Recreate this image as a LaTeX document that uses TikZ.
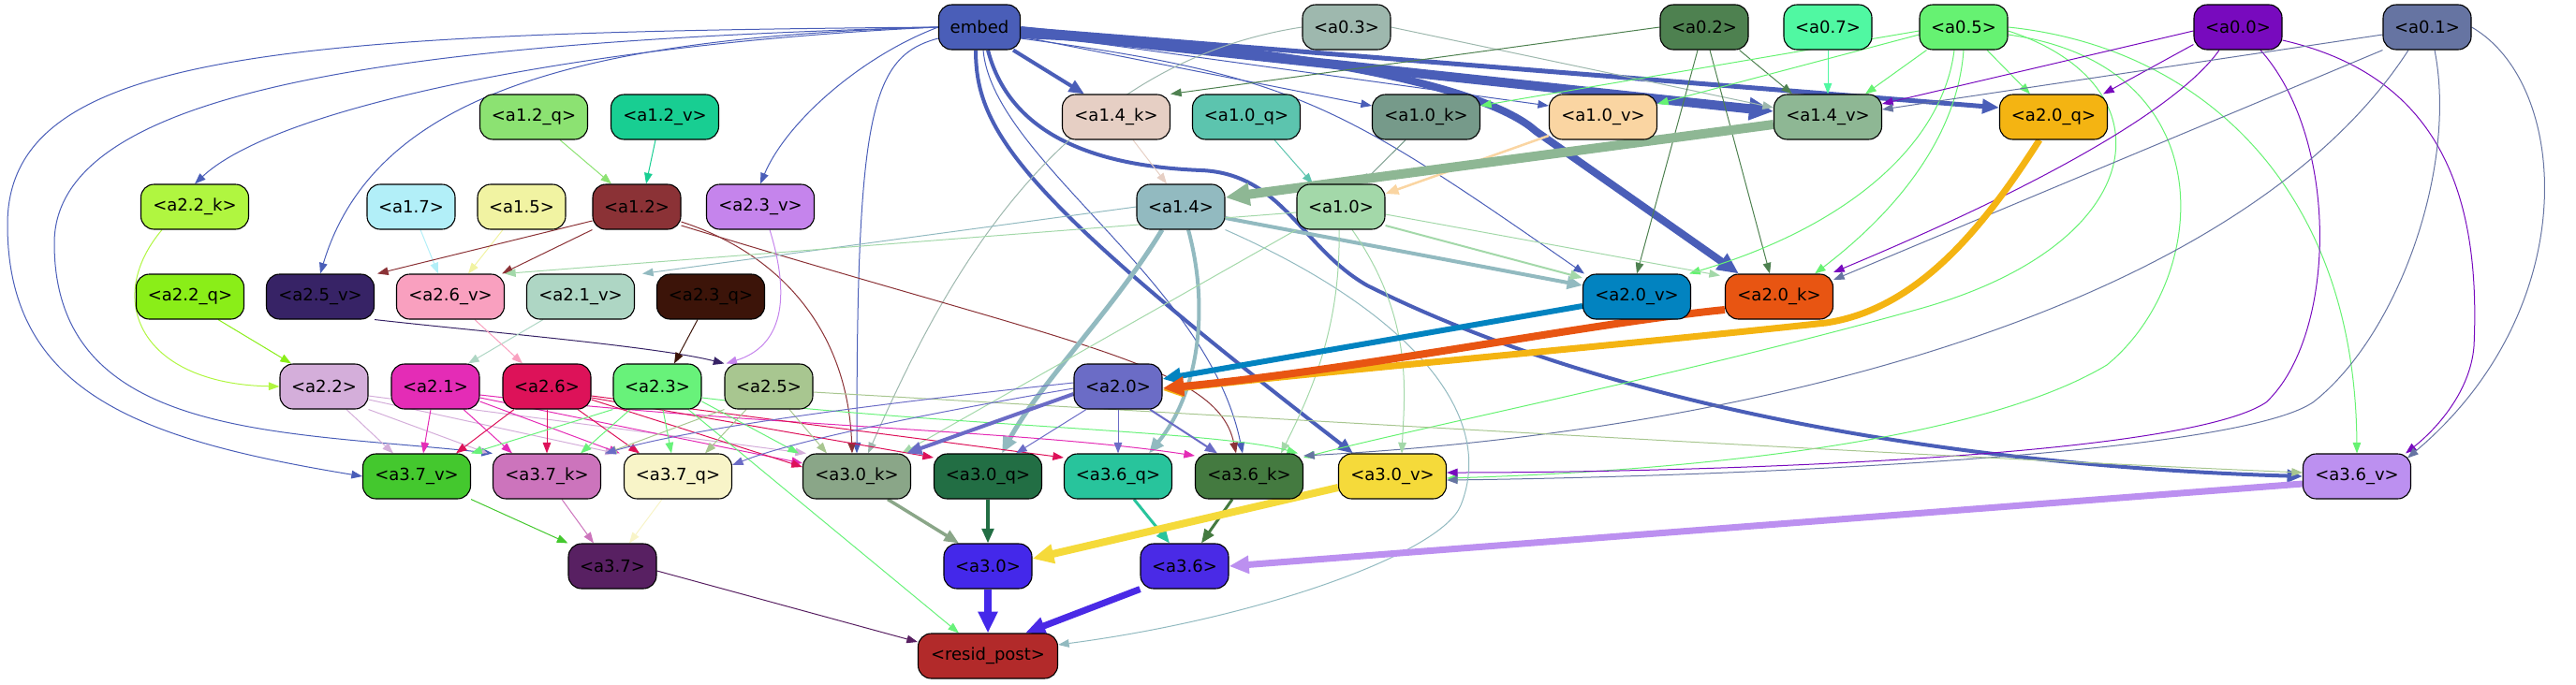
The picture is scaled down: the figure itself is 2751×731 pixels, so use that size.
\documentclass[tikz,border=0pt]{standalone}
\usepackage{fontspec}
\setmainfont{DejaVu Sans}
\usetikzlibrary{arrows.meta}
\pgfdeclarelayer{bg}
\pgfsetlayers{bg,main}
\definecolor{cEM}{HTML}{4A5EB8}
\definecolor{c03}{HTML}{9EB8AE}
\definecolor{c02}{HTML}{4E8150}
\definecolor{c07}{HTML}{50F8A2}
\definecolor{c05}{HTML}{66F272}
\definecolor{c00}{HTML}{780ABE}
\definecolor{c01}{HTML}{6674A2}
\definecolor{c12q}{HTML}{8CE272}
\definecolor{c12v}{HTML}{18CE92}
\definecolor{c14k}{HTML}{E6CFC4}
\definecolor{c10q}{HTML}{5CC4AE}
\definecolor{c10k}{HTML}{769A8A}
\definecolor{c10v}{HTML}{FAD5A2}
\definecolor{c14v}{HTML}{8EB794}
\definecolor{c20q}{HTML}{F4B412}
\definecolor{c22k}{HTML}{B0F640}
\definecolor{c17}{HTML}{B2EFF8}
\definecolor{c15}{HTML}{F1F3A2}
\definecolor{c12}{HTML}{8B3236}
\definecolor{c23v}{HTML}{C584EC}
\definecolor{c14}{HTML}{92BAC0}
\definecolor{c10}{HTML}{A3D8A9}
\definecolor{c22q}{HTML}{8AEE18}
\definecolor{c25v}{HTML}{372366}
\definecolor{c26v}{HTML}{F9A0BF}
\definecolor{c21v}{HTML}{AED6C4}
\definecolor{c23q}{HTML}{3C1409}
\definecolor{c20v}{HTML}{0283C0}
\definecolor{c20k}{HTML}{E85512}
\definecolor{c22}{HTML}{D4AEDA}
\definecolor{c21}{HTML}{E42CB6}
\definecolor{c26}{HTML}{DD1259}
\definecolor{c23}{HTML}{68F27A}
\definecolor{c25}{HTML}{A8C690}
\definecolor{c20}{HTML}{6B6CC6}
\definecolor{c37v}{HTML}{44C82E}
\definecolor{c37k}{HTML}{CC74BC}
\definecolor{c37q}{HTML}{F8F4C8}
\definecolor{c30k}{HTML}{8AA688}
\definecolor{c30q}{HTML}{226E44}
\definecolor{c36q}{HTML}{28C49C}
\definecolor{c36k}{HTML}{447A40}
\definecolor{c30v}{HTML}{F5DA3A}
\definecolor{c36v}{HTML}{BC90F0}
\definecolor{c37}{HTML}{582062}
\definecolor{c30}{HTML}{4428EA}
\definecolor{c36}{HTML}{4A2AE6}
\definecolor{cRP}{HTML}{B22A2A}
\begin{document}
\begin{tikzpicture}[x=1pt,y=-1pt,
  font=\fontsize{18pt}{20pt}\selectfont,
  nd/.style={draw=black, line width=1.1pt, rounded corners=14pt, minimum height=48pt, inner sep=0pt, text=black},
  sn/.style={nd, minimum width=94pt},
  ln/.style={nd, minimum width=115pt},
  edg/.style={line width=#1pt, -{Triangle[length=10pt 1.6,width=7pt 1.6]}},
  edg/.default=1]
\useasboundingbox (0,0) rectangle (2751,731);
% row 1
\node[nd, minimum width=87pt, fill=cEM] (embed) at (1046,29) {embed};
\node[sn, fill=c03] (a03) at (1438,29) {<a0.3>};
\node[sn, fill=c02] (a02) at (1820,29) {<a0.2>};
\node[sn, fill=c07] (a07) at (1952,29) {<a0.7>};
\node[sn, fill=c05] (a05) at (2097,29) {<a0.5>};
\node[sn, fill=c00] (a00) at (2390,29) {<a0.0>};
\node[sn, fill=c01] (a01) at (2592,29) {<a0.1>};
% row 2
\node[ln, fill=c12q] (a12q) at (570,125) {<a1.2\_q>};
\node[ln, fill=c12v] (a12v) at (710,125) {<a1.2\_v>};
\node[ln, fill=c14k] (a14k) at (1192,125) {<a1.4\_k>};
\node[ln, fill=c10q] (a10q) at (1331,125) {<a1.0\_q>};
\node[ln, fill=c10k] (a10k) at (1523,125) {<a1.0\_k>};
\node[ln, fill=c10v] (a10v) at (1712,125) {<a1.0\_v>};
\node[ln, fill=c14v] (a14v) at (1952,125) {<a1.4\_v>};
\node[ln, fill=c20q] (a20q) at (2193,125) {<a2.0\_q>};
% row 3
\node[ln, fill=c22k] (a22k) at (208,221) {<a2.2\_k>};
\node[sn, fill=c17] (a17) at (439,221) {<a1.7>};
\node[sn, fill=c15] (a15) at (557,221) {<a1.5>};
\node[sn, fill=c12] (a12) at (680,221) {<a1.2>};
\node[ln, fill=c23v] (a23v) at (812,221) {<a2.3\_v>};
\node[sn, fill=c14] (a14) at (1261,221) {<a1.4>};
\node[sn, fill=c10] (a10) at (1432,221) {<a1.0>};
% row 4
\node[ln, fill=c22q] (a22q) at (203,317) {<a2.2\_q>};
\node[ln, fill=c25v] (a25v) at (342,317) {<a2.5\_v>};
\node[ln, fill=c26v] (a26v) at (481,317) {<a2.6\_v>};
\node[ln, fill=c21v] (a21v) at (620,317) {<a2.1\_v>};
\node[ln, fill=c23q] (a23q) at (759,317) {<a2.3\_q>};
\node[ln, fill=c20v] (a20v) at (1748,317) {<a2.0\_v>};
\node[ln, fill=c20k] (a20k) at (1900,317) {<a2.0\_k>};
% row 5
\node[sn, fill=c22] (a22) at (346,413) {<a2.2>};
\node[sn, fill=c21] (a21) at (465,413) {<a2.1>};
\node[sn, fill=c26] (a26) at (584,413) {<a2.6>};
\node[sn, fill=c23] (a23) at (702,413) {<a2.3>};
\node[sn, fill=c25] (a25) at (821,413) {<a2.5>};
\node[sn, fill=c20] (a20) at (1194,413) {<a2.0>};
% row 6
\node[ln, fill=c37v] (a37v) at (445,509) {<a3.7\_v>};
\node[ln, fill=c37k] (a37k) at (584,509) {<a3.7\_k>};
\node[ln, fill=c37q] (a37q) at (724,509) {<a3.7\_q>};
\node[ln, fill=c30k] (a30k) at (915,509) {<a3.0\_k>};
\node[ln, fill=c30q] (a30q) at (1055,509) {<a3.0\_q>};
\node[ln, fill=c36q] (a36q) at (1194,509) {<a3.6\_q>};
\node[ln, fill=c36k] (a36k) at (1334,509) {<a3.6\_k>};
\node[ln, fill=c30v] (a30v) at (1487,509) {<a3.0\_v>};
\node[ln, fill=c36v] (a36v) at (2517,509) {<a3.6\_v>};
% row 7
\node[sn, fill=c37] (a37) at (654,605) {<a3.7>};
\node[sn, fill=c30] (a30) at (1055,605) {<a3.0>};
\node[sn, fill=c36] (a36) at (1265,605) {<a3.6>};
% row 8
\node[nd, minimum width=149pt, fill=cRP] (resid) at (1055,701) {<resid\_post>};

\begin{pgfonlayer}{bg}
% ---- embed
\draw[edg,cEM] (embed.west) .. controls (650,45) and (300,110) .. (a22k.north);
\draw[edg,cEM] (embed.west) .. controls (620,40) and (400,100) .. (a25v.north);
\draw[edg,cEM] (embed.west) .. controls (920,60) and (840,130) .. (a23v.north);
\draw[edg,cEM] (embed.west) .. controls (300,35) and (8,55) .. (8,240) .. controls (8,420) and (150,470) .. (a37v.west);
\draw[edg,cEM] (embed.west) .. controls (400,45) and (58,100) .. (58,260) .. controls (58,470) and (300,460) .. (a37k.north west);
\draw[edg,cEM] ([yshift=-12pt]embed.west) .. controls (930,60) and (915,120) .. (a30k.north);
\draw[edg=4,cEM] ([xshift=-8pt]embed.south east) -- ([xshift=-34pt]a14k.north);
\draw[edg,cEM] ([yshift=-10pt]embed.east) -- ([yshift=12pt]a10k.west);
\draw[edg,cEM] ([yshift=-6pt]embed.east) -- ([yshift=12pt]a10v.west);
\draw[edg,cEM] ([yshift=-12pt]embed.east) .. controls (1380,80) and (1430,110) .. ([xshift=2pt]a20v.north west);
\draw[edg=4,cEM] ([xshift=-4pt]embed.south) .. controls (1042,140) and (1090,210) .. ([xshift=16pt]a30v.north west);
\draw[edg,cEM] ([xshift=4pt]embed.south) .. controls (1060,170) and (1290,300) .. ([xshift=-7pt]a36k.north);
\draw[edg=4,cEM] ([xshift=9pt]embed.south) .. controls (1080,150) and (1180,178) .. (1283,182) .. controls (1370,186) and (1390,265) .. (1460,305) .. controls (1750,450) and (2150,500) .. (a36v.west);
\draw[edg=5,cEM] ([yshift=-2pt]embed.east) -- ([yshift=10pt]a20q.west);
\draw[edg=8,cEM] ([yshift=-8pt]embed.east) .. controls (1400,50) and (1590,95) .. (1640,140) -- ([xshift=15pt]a20k.north west);
\draw[edg=10,cEM] ([yshift=-4pt]embed.east) -- ([yshift=6pt]a14v.west);
% ---- layer 0
\draw[edg,c03] (a03.west) .. controls (1120,70) and (1000,320) .. ([xshift=12pt]a30k.north);
\draw[edg,c03] (a03.east) -- ([yshift=10pt]a14v.west);
\draw[edg,c02] (a02.west) -- (a14k.north east);
\draw[edg,c02] ([xshift=-10pt]a02.south east) -- ([xshift=-38pt]a14v.north);
\draw[edg,c02] ([xshift=-7pt]a02.south) -- (a20v.north);
\draw[edg,c02] ([xshift=6pt]a02.south) -- ([xshift=-10pt]a20k.north);
\draw[edg,c07] (a07.south) -- (a14v.north);
\draw[edg,c05] ([xshift=8pt]a05.south west) -- ([xshift=40pt]a14v.north);
\draw[edg,c05] ([yshift=-4pt]a05.west) -- ([yshift=12pt]a10k.east);
\draw[edg,c05] ([yshift=-8pt]a05.west) -- ([yshift=14pt]a10v.east);
\draw[edg,c05] ([xshift=25pt]a05.south) -- ([xshift=-25pt]a20q.north);
\draw[edg,c05] ([xshift=-10pt]a05.south) .. controls (2075,150) and (1980,240) .. ([xshift=-2pt]a20v.north east);
\draw[edg,c05] (a05.south) .. controls (2090,150) and (2020,230) .. ([xshift=-20pt]a20k.north east);
\draw[edg,c05] (a05.east) .. controls (2350,50) and (2515,200) .. (a36v.north);
\draw[edg,c05] ([yshift=-4pt]a05.east) .. controls (2320,90) and (2300,260) .. (2050,330) .. controls (1800,400) and (1500,460) .. ([yshift=20pt]a36k.east);
\draw[edg,c05] ([yshift=-8pt]a05.east) .. controls (2380,70) and (2360,300) .. (2250,390) .. controls (2100,480) and (1750,505) .. ([yshift=-2pt]a30v.east);
\draw[edg,c00] ([yshift=-4pt]a00.west) -- ([yshift=14pt]a14v.east);
\draw[edg,c00] ([yshift=6pt]a00.south west) -- ([xshift=-5pt]a20q.north east);
\draw[edg,c00] ([xshift=-20pt]a00.south) .. controls (2330,110) and (2200,190) .. ([yshift=26pt]a20k.east);
\draw[edg,c00] ([xshift=24pt]a00.south) .. controls (2500,150) and (2495,360) .. (2420,430) .. controls (2330,490) and (1800,505) .. ([yshift=4pt]a30v.east);
\draw[edg,c00] ([yshift=-14pt]a00.east) .. controls (2600,80) and (2650,200) .. (2642,370) .. controls (2638,420) and (2600,460) .. ([xshift=-6pt]a36v.north east);
\draw[edg,c01] ([yshift=-8pt]a01.west) -- ([yshift=8pt]a14v.east);
\draw[edg,c01] (a01.south west) -- ([yshift=18pt]a20k.east);
\draw[edg,c01] ([xshift=-20pt]a01.south) .. controls (2400,320) and (1900,460) .. ([yshift=22pt]a36k.east);
\draw[edg,c01] ([xshift=8pt]a01.south) .. controls (2625,180) and (2560,360) .. (2470,430) .. controls (2380,490) and (1800,510) .. ([yshift=-4pt]a30v.east);
\draw[edg,c01] (a01.east) .. controls (2745,90) and (2760,330) .. ([xshift=-4pt,yshift=-5pt]a36v.north east);
% ---- layer 1 inputs
\draw[edg,c12q] ([xshift=28pt]a12q.south) -- ([xshift=-27pt]a12.north);
\draw[edg,c12v] ([xshift=-10pt]a12v.south) -- ([xshift=10pt]a12.north);
\draw[edg,c14k] ([xshift=18pt]a14k.south) -- ([xshift=-15pt]a14.north);
\draw[edg,c10q] ([xshift=30pt]a10q.south) -- ([xshift=-30pt]a10.north);
\draw[edg,c10k] ([xshift=-22pt]a10k.south) -- ([xshift=22pt]a10.north);
\draw[edg=2.5,c10v] ([yshift=-20pt]a10v.west) -- ([yshift=14pt]a10.east);
% ---- layer 1 outputs
\draw[edg,c17] ([xshift=10pt]a17.south) -- ([xshift=-13pt]a26v.north);
\draw[edg,c15] ([xshift=-20pt]a15.south) -- ([xshift=19pt]a26v.north);
\draw[edg,c12] ([yshift=-15pt]a12.west) -- ([xshift=3pt]a25v.north east);
\draw[edg,c12] (a12.south west) -- ([xshift=-3pt]a26v.north east);
\draw[edg,c12] ([yshift=-16pt]a12.east) .. controls (830,270) and (905,350) .. ([xshift=-5pt]a30k.north);
\draw[edg,c12] ([yshift=-20pt]a12.east) .. controls (1150,370) and (1300,390) .. ([xshift=-14pt]a36k.north);
\draw[edg,c14] (a14.west) -- ([xshift=8pt]a21v.north east);
\draw[edg,c14] (a14.south east) .. controls (1500,330) and (1600,440) .. (1560,540) .. controls (1540,590) and (1350,660) .. ([yshift=12pt]resid.east);
\draw[edg=4,c14] ([yshift=-12pt]a14.east) -- ([yshift=12pt]a20v.west);
\draw[edg=5,c14] ([xshift=-20pt]a14.south) .. controls (1190,330) and (1110,410) .. ([xshift=15pt]a30q.north);
\draw[edg=4,c14] ([xshift=8pt]a14.south) .. controls (1292,330) and (1280,420) .. ([xshift=33pt]a36q.north);
\draw[edg,c10] ([yshift=-6pt]a10.west) -- (a26v.north east);
\draw[edg,c10] (a10.south west) -- ([xshift=-10pt]a30k.north east);
\draw[edg,c10] ([xshift=-2pt]a10.south) .. controls (1432,350) and (1400,420) .. ([xshift=34pt]a36k.north);
\draw[edg,c10] ([xshift=12pt]a10.south) .. controls (1510,340) and (1500,420) .. ([xshift=10pt]a30v.north);
\draw[edg,c10] ([yshift=-8pt]a10.east) -- ([xshift=-5pt,yshift=-2pt]a20k.north west);
\draw[edg=2,c10] ([yshift=-20pt]a10.east) -- ([yshift=20pt]a20v.west);
\draw[edg=10,c14v] ([yshift=-8pt]a14v.west) -- ([yshift=10pt]a14.east);
% ---- layer 2 inputs
\draw[edg,c23v] ([xshift=10pt]a23v.south) .. controls (845,320) and (835,370) .. ([xshift=2pt]a25.north west);
\draw[edg,c25v] (a25v.south east) .. controls (520,355) and (700,370) .. (a25.north west);
\draw[edg,c23q] ([xshift=-14pt]a23q.south) -- ([xshift=18pt]a23.north);
\draw[edg,c21v] ([xshift=-40pt]a21v.south) -- ([xshift=35pt]a21.north);
\draw[edg,c26v] ([xshift=26pt]a26v.south) -- ([xshift=-26pt]a26.north);
\draw[edg,c22k] ([xshift=-35pt]a22k.south) .. controls (110,320) and (150,410) .. (a22.west);
\draw[edg,c22q] ([xshift=30pt]a22q.south) -- ([xshift=-35pt]a22.north);
\draw[edg=6,c20v] ([yshift=-10pt]a20v.west) -- ([yshift=8pt]a20.east);
\draw[edg=7,c20q] ([xshift=-15pt]a20q.south) .. controls (2120,240) and (2050,330) .. (1950,345) .. controls (1700,372) and (1400,398) .. ([yshift=-4pt]a20.east);
\draw[edg=8,c20k] ([yshift=-14pt]a20k.west) .. controls (1700,345) and (1450,395) .. ([yshift=-2pt]a20.east);
% ---- layer 2 outputs
\draw[edg,c22] ([xshift=24pt]a22.south) -- ([xshift=-25pt]a37v.north);
\draw[edg,c22] (a22.south east) -- ([xshift=-5pt]a37k.north west);
\draw[edg,c22] ([yshift=-14pt]a22.east) -- ([xshift=-8pt]a37q.north west);
\draw[edg,c22] ([yshift=-10pt]a22.east) -- ([xshift=4pt]a30k.north west);
\draw[edg,c21] ([xshift=-5pt]a21.south) -- ([xshift=7pt]a37v.north);
\draw[edg,c21] ([xshift=30pt]a21.south) -- ([xshift=-37pt]a37k.north);
\draw[edg,c21] ([yshift=-16pt]a21.east) -- ([xshift=-4pt]a37q.north west);
\draw[edg,c21] ([yshift=-12pt]a21.east) -- ([yshift=14pt]a30k.west);
\draw[edg,c21] ([yshift=-9pt]a21.east) .. controls (800,455) and (1100,460) .. ([yshift=22pt]a36k.west);
\draw[edg,c26] ([xshift=-35pt]a26.south) -- ([xshift=42pt]a37v.north);
\draw[edg,c26] (a26.south) -- (a37k.north);
\draw[edg,c26] ([xshift=33pt]a26.south) -- ([xshift=-41pt]a37q.north);
\draw[edg,c26] ([yshift=-14pt]a26.east) -- ([yshift=10pt]a30k.west);
\draw[edg,c26] ([yshift=-12pt]a26.east) -- ([yshift=20pt]a30q.west);
\draw[edg,c26] ([yshift=-10pt]a26.east) -- ([yshift=20pt]a36q.west);
\draw[edg,c23] (a23.south west) -- (a37v.north east);
\draw[edg,c23] ([xshift=-29pt]a23.south) -- ([xshift=36pt]a37k.north);
\draw[edg,c23] ([xshift=6pt]a23.south) -- ([xshift=-7pt]a37q.north);
\draw[edg,c23] ([yshift=-16pt]a23.east) -- ([xshift=-4pt]a30k.north west);
\draw[edg,c23] ([xshift=33pt]a23.south) -- ([xshift=-31pt]resid.north);
\draw[edg,c23] ([yshift=-12pt]a23.east) .. controls (1000,455) and (1300,460) .. ([xshift=-6pt]a36k.north east);
\draw[edg,c25] (a25.south west) -- ([xshift=5pt]a37k.north east);
\draw[edg,c25] ([xshift=-24pt]a25.south) -- ([xshift=29pt]a37q.north);
\draw[edg,c25] ([xshift=22pt]a25.south) -- ([xshift=-32pt]a30k.north);
\draw[edg,c25] ([yshift=-6pt]a25.east) .. controls (1400,450) and (2100,490) .. ([yshift=4pt]a36v.west);
\draw[edg=4,c20] ([yshift=-8pt]a20.west) -- ([xshift=-5pt]a30k.north east);
\draw[edg,c20] ([xshift=-34pt]a20.south) -- ([xshift=30pt]a30q.north);
\draw[edg,c20] (a20.south) -- (a36q.north);
\draw[edg=2,c20] ([xshift=34pt]a20.south) -- ([xshift=-34pt]a36k.north);
\draw[edg,c20] ([yshift=-2pt]a20.west) .. controls (1000,440) and (850,470) .. ([yshift=12pt]a37q.east);
\draw[edg,c20] ([yshift=4pt]a20.west) .. controls (950,430) and (750,455) .. ([xshift=4pt]a37k.north east);
% ---- layer 3
\draw[edg,c37v] (a37v.south east) -- (a37.north west);
\draw[edg,c37k] ([xshift=16pt]a37k.south) -- ([xshift=-20pt]a37.north);
\draw[edg,c37q] ([xshift=-17pt]a37q.south) -- ([xshift=18pt]a37.north);
\draw[edg=3.5,c30k] ([xshift=33pt]a30k.south) -- ([xshift=-31pt]a30.north);
\draw[edg=3.5,c30q] (a30q.south) -- (a30.north);
\draw[edg=3,c36q] ([xshift=17pt]a36q.south) -- ([xshift=-16pt]a36.north);
\draw[edg=3,c36k] ([xshift=-18pt]a36k.south) -- ([xshift=18pt]a36.north);
\draw[edg=8,c30v] ([yshift=-12pt]a30v.west) -- ([yshift=8pt]a30.east);
\draw[edg=7,c36v] ([yshift=-8pt]a36v.west) -- (a36.east);
\draw[edg,c37] ([yshift=-5pt]a37.east) -- ([yshift=15pt]resid.west);
\draw[edg=8,c30] (a30.south) -- (resid.north);
\draw[edg=7,c36] (a36.south west) -- ([xshift=40pt]resid.north);
\end{pgfonlayer}
\end{tikzpicture}
\end{document}
